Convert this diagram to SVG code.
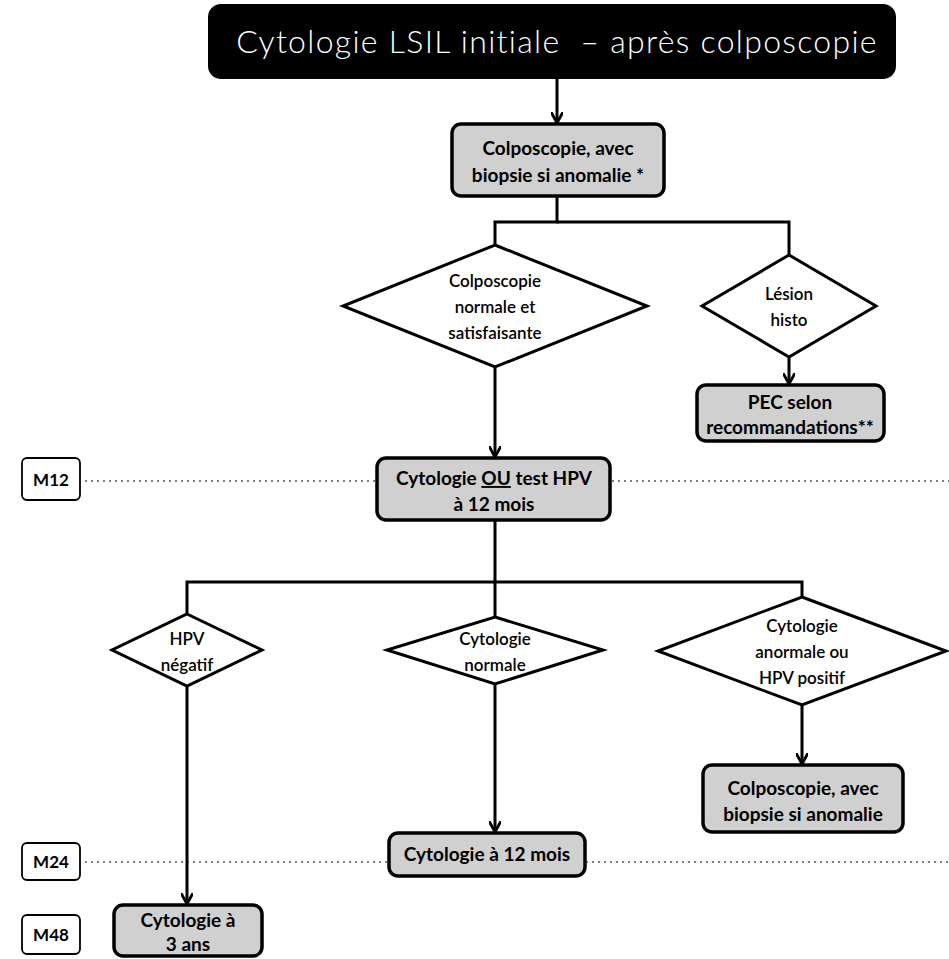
<svg xmlns="http://www.w3.org/2000/svg" width="949" height="959" viewBox="0 0 949 959">
<defs>
<style>
.bg{fill:#ffffff}
.title{fill:#000000;stroke:#000000;stroke-width:2}
.ttl{font-family:"Lato","Open Sans","Liberation Sans",sans-serif;font-weight:300;font-size:32px;letter-spacing:1.3px;fill:#ffffff;white-space:pre}
.box{fill:#d0d0d0;stroke:#000000;stroke-width:3.5}
.dia{fill:#ffffff;stroke:#000000;stroke-width:3}
.mbox{fill:#ffffff;stroke:#000000;stroke-width:1.8}
.t{font-family:"Lato","Open Sans","Liberation Sans",sans-serif;font-weight:700;font-size:19px;fill:#000000;text-anchor:middle}
.m{font-family:"Lato","Open Sans","Liberation Sans",sans-serif;font-weight:700;font-size:17px;fill:#000000;text-anchor:middle}
.d{font-family:"Lato","Open Sans","Liberation Sans",sans-serif;font-weight:600;font-size:17px;fill:#000000;text-anchor:middle}
.ln{fill:none;stroke:#000000;stroke-width:3}
.dot{fill:none;stroke:#000000;stroke-width:1.2;stroke-dasharray:2 4}
</style>
<marker id="ah" viewBox="0 0 12 12" refX="10" refY="6" markerWidth="12" markerHeight="12" markerUnits="userSpaceOnUse" orient="auto">
<path d="M0,0 L11,6 L0,12" fill="none" stroke="#000000" stroke-width="2.8"/>
</marker>
</defs>
<rect class="bg" x="0" y="0" width="949" height="959"/>

<g id="timeline">
<line class="dot" x1="85" y1="481" x2="376" y2="481"/>
<line class="dot" x1="612" y1="481" x2="949" y2="481"/>
<line class="dot" x1="85" y1="862" x2="389" y2="862"/>
<line class="dot" x1="586" y1="862" x2="949" y2="862"/>
</g>

<g id="connectors">
<line class="ln" x1="557" y1="78" x2="557" y2="122" marker-end="url(#ah)"/>
<polyline class="ln" points="557,196 557,222 495,222 495,245"/>
<polyline class="ln" points="557,222 789,222 789,255"/>
<line class="ln" x1="789" y1="357" x2="789" y2="383" marker-end="url(#ah)"/>
<line class="ln" x1="495" y1="367" x2="495" y2="456" marker-end="url(#ah)"/>
<polyline class="ln" points="495,520 495,582 187,582 187,614"/>
<line class="ln" x1="495" y1="582" x2="495" y2="617"/>
<polyline class="ln" points="495,582 802,582 802,597"/>
<line class="ln" x1="802" y1="705" x2="802" y2="763" marker-end="url(#ah)"/>
<line class="ln" x1="495" y1="684" x2="495" y2="831" marker-end="url(#ah)"/>
<line class="ln" x1="187" y1="686" x2="187" y2="903" marker-end="url(#ah)"/>
</g>

<g id="title">
<rect class="title" x="209" y="5" width="686" height="73" rx="12"/>
<text class="ttl" x="557" y="53" text-anchor="middle" xml:space="preserve">Cytologie LSIL initiale  – après colposcopie</text>
</g>

<g id="colpo1">
<rect class="box" x="452" y="124" width="212" height="72" rx="9"/>
<text class="t" x="558" y="155">Colposcopie, avec</text>
<text class="t" x="558" y="182">biopsie si anomalie *</text>
</g>

<g id="dec-normale">
<polygon class="dia" points="495,245 647,306 495,367 343,306"/>
<text class="d" x="495" y="287">Colposcopie</text>
<text class="d" x="495" y="313">normale et</text>
<text class="d" x="495" y="339">satisfaisante</text>
</g>

<g id="dec-lesion">
<polygon class="dia" points="789,255 876,306 789,357 702,306"/>
<text class="d" x="789" y="300">Lésion</text>
<text class="d" x="789" y="326">histo</text>
</g>

<g id="pec">
<rect class="box" x="697" y="385" width="187" height="56" rx="9"/>
<text class="t" x="790" y="409">PEC selon</text>
<text class="t" x="790" y="434">recommandations**</text>
</g>

<g id="m12">
<rect class="mbox" x="22" y="458" width="58" height="42" rx="5"/>
<text class="m" x="51" y="486">M12</text>
</g>

<g id="cyto12">
<rect class="box" x="377" y="458" width="233" height="62" rx="9"/>
<text class="t" x="494" y="485">Cytologie <tspan text-decoration="underline">OU</tspan> test HPV</text>
<text class="t" x="494" y="511">à 12 mois</text>
</g>

<g id="dec-hpvneg">
<polygon class="dia" points="187,614 262,650 187,686 112,650"/>
<text class="d" x="187" y="645">HPV</text>
<text class="d" x="187" y="671">négatif</text>
</g>

<g id="dec-cytonorm">
<polygon class="dia" points="495,617 603,650 495,684 387,650"/>
<text class="d" x="495" y="645">Cytologie</text>
<text class="d" x="495" y="671">normale</text>
</g>

<g id="dec-anorm">
<polygon class="dia" points="802,597 946,651 802,705 658,651"/>
<text class="d" x="802" y="632">Cytologie</text>
<text class="d" x="802" y="658">anormale ou</text>
<text class="d" x="802" y="684">HPV positif</text>
</g>

<g id="colpo2">
<rect class="box" x="703" y="765" width="200" height="67" rx="9"/>
<text class="t" x="803" y="795">Colposcopie, avec</text>
<text class="t" x="803" y="821">biopsie si anomalie</text>
</g>

<g id="m24">
<rect class="mbox" x="22" y="843" width="58" height="37" rx="5"/>
<text class="m" x="51" y="868">M24</text>
</g>

<g id="cyto12b">
<rect class="box" x="389" y="833" width="196" height="43" rx="9"/>
<text class="t" x="487" y="861">Cytologie à 12 mois</text>
</g>

<g id="m48">
<rect class="mbox" x="22" y="915" width="58" height="39" rx="5"/>
<text class="m" x="51" y="941">M48</text>
</g>

<g id="cyto3ans">
<rect class="box" x="114" y="905" width="148" height="51" rx="9"/>
<text class="t" x="188" y="927">Cytologie à</text>
<text class="t" x="188" y="951">3 ans</text>
</g>
</svg>
